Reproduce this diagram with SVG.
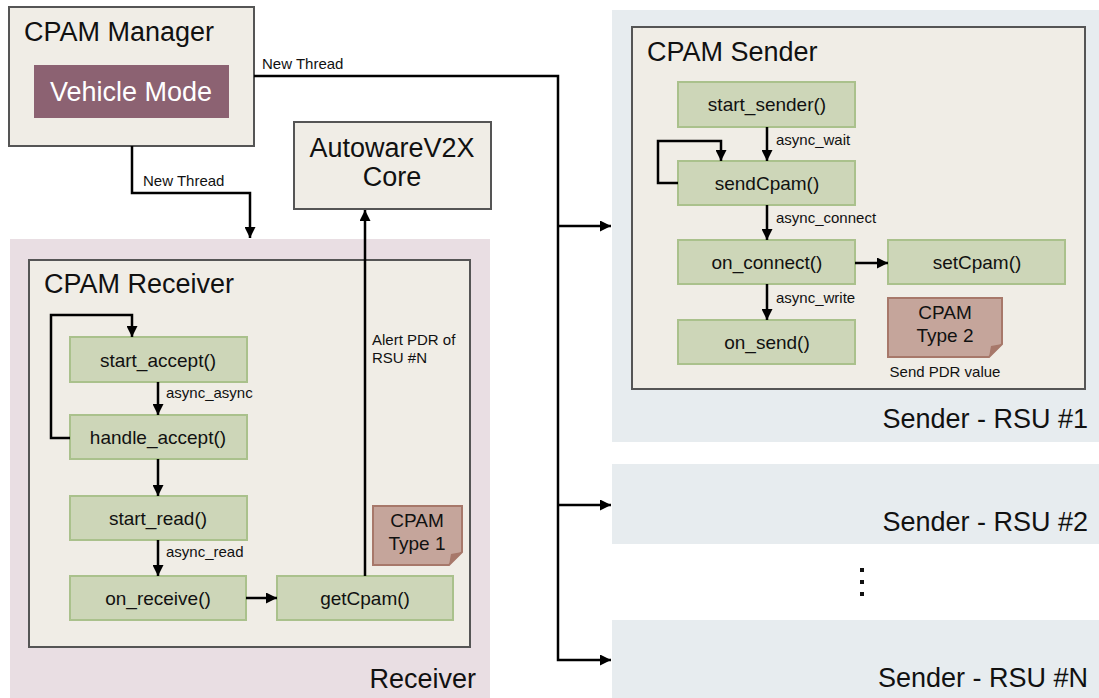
<svg xmlns="http://www.w3.org/2000/svg" width="1099" height="698" viewBox="0 0 1099 698">
<style>
text{font-family:"Liberation Sans",Arial,Helvetica,sans-serif;fill:#111}
.title{font-size:27px}
.fn{font-size:19px;text-anchor:middle}
.lbl{font-size:15px}
.box{fill:#f0ede6;stroke:#555;stroke-width:2}
.f{fill:#cdd6b8;stroke:#aac18c;stroke-width:2}
.note{fill:#c5a59b;stroke:#a7786a;stroke-width:2}
.fold{fill:#a7786a}
.conn{fill:none;stroke:#000;stroke-width:2.5}
.nt{font-size:19px;text-anchor:middle}
</style>
<defs>
<marker id="ah" viewBox="0 0 10 10" refX="10" refY="5" markerWidth="11" markerHeight="11" markerUnits="userSpaceOnUse" orient="auto"><path d="M0,0 L10,5 L0,10 z" fill="#000"/></marker>
</defs>
<rect width="1099" height="698" fill="#fff"/>

<g id="receiver-region">
<rect x="10" y="239" width="480" height="459" fill="#e9dee3"/>
<text class="title" x="476" y="688" text-anchor="end">Receiver</text>
</g>
<g id="sender-rsu1-region">
<rect x="612" y="10" width="487" height="432" fill="#e7ecef"/>
<text class="title" x="1088" y="428" text-anchor="end">Sender - RSU #1</text>
</g>
<g id="sender-rsu2-region">
<rect x="612" y="464" width="487" height="80" fill="#e7ecef"/>
<text class="title" x="1088" y="531" text-anchor="end">Sender - RSU #2</text>
</g>
<g id="sender-rsun-region">
<rect x="612" y="620" width="487" height="78" fill="#e7ecef"/>
<text class="title" x="1088" y="687" text-anchor="end">Sender - RSU #N</text>
</g>
<g id="ellipsis">
<rect x="860" y="568" width="4" height="4" fill="#111"/>
<rect x="860" y="580" width="4" height="4" fill="#111"/>
<rect x="860" y="592" width="4" height="4" fill="#111"/>
</g>

<g id="cpam-manager">
<rect class="box" x="9" y="7" width="245" height="139"/>
<text class="title" x="24" y="41">CPAM Manager</text>
<g id="vehicle-mode">
<rect x="34" y="65" width="195" height="53" fill="#8c6272"/>
<text x="131" y="101" text-anchor="middle" style="font-size:27px;fill:#fff">Vehicle Mode</text>
</g>
</g>

<g id="autowarev2x-core">
<rect class="box" x="294" y="122" width="197" height="87"/>
<text class="title" x="392" y="157" text-anchor="middle">AutowareV2X</text>
<text class="title" x="392" y="186" text-anchor="middle">Core</text>
</g>

<g id="cpam-receiver">
<rect class="box" x="29" y="260" width="441" height="387"/>
<text class="title" x="44" y="293">CPAM Receiver</text>
</g>
<g id="start_accept"><rect class="f" x="70" y="337" width="177" height="45"/><text class="fn" x="158" y="367">start_accept()</text></g>
<g id="handle_accept"><rect class="f" x="70" y="415" width="177" height="44"/><text class="fn" x="158" y="444">handle_accept()</text></g>
<g id="start_read"><rect class="f" x="70" y="496" width="177" height="44"/><text class="fn" x="158" y="525">start_read()</text></g>
<g id="on_receive"><rect class="f" x="70" y="576" width="176" height="44"/><text class="fn" x="158" y="605">on_receive()</text></g>
<g id="getCpam"><rect class="f" x="277" y="576" width="176" height="44"/><text class="fn" x="365" y="605">getCpam()</text></g>
<g id="cpam-type1">
<path class="note" d="M373,506 H462 V552 L449,565 H373 Z"/>
<path class="fold" d="M462,552 L449,565 L451,554 Z"/>
<text class="nt" x="417" y="527">CPAM</text>
<text class="nt" x="417" y="550">Type 1</text>
</g>

<g id="cpam-sender">
<rect class="box" x="632" y="27" width="453" height="362"/>
<text class="title" x="647" y="61">CPAM Sender</text>
</g>
<g id="start_sender"><rect class="f" x="678" y="82" width="177" height="45"/><text class="fn" x="767" y="111">start_sender()</text></g>
<g id="sendCpam"><rect class="f" x="678" y="161" width="177" height="44"/><text class="fn" x="767" y="190">sendCpam()</text></g>
<g id="on_connect"><rect class="f" x="678" y="240" width="177" height="44"/><text class="fn" x="767" y="269">on_connect()</text></g>
<g id="on_send"><rect class="f" x="678" y="320" width="177" height="44"/><text class="fn" x="767" y="349">on_send()</text></g>
<g id="setCpam"><rect class="f" x="888" y="240" width="177" height="44"/><text class="fn" x="977" y="269">setCpam()</text></g>
<g id="cpam-type2">
<path class="note" d="M888,298 H1002 V344 L989,357 H888 Z"/>
<path class="fold" d="M1002,344 L989,357 L991,346 Z"/>
<text class="nt" x="945" y="319">CPAM</text>
<text class="nt" x="945" y="342">Type 2</text>
<text x="945" y="377" text-anchor="middle" style="font-size:15px">Send PDR value</text>
</g>

<g id="connectors">
<path class="conn" d="M254,76 H558 V660 H611" marker-end="url(#ah)"/>
<path class="conn" d="M558,226 H611" marker-end="url(#ah)"/>
<path class="conn" d="M558,505 H611" marker-end="url(#ah)"/>
<text class="lbl" x="262" y="69">New Thread</text>
<path class="conn" d="M132,146 V193 H250 V238" marker-end="url(#ah)"/>
<text class="lbl" x="143" y="186">New Thread</text>
<path class="conn" d="M365,576 V210" marker-end="url(#ah)"/>
<text class="lbl" x="372" y="345">Alert PDR of</text>
<text class="lbl" x="372" y="363">RSU #N</text>
<path class="conn" d="M70,438 H51 V315 H132 V337" marker-end="url(#ah)"/>
<path class="conn" d="M158,382 V415" marker-end="url(#ah)"/>
<text class="lbl" x="166" y="398">async_async</text>
<path class="conn" d="M158,459 V496" marker-end="url(#ah)"/>
<path class="conn" d="M158,540 V576" marker-end="url(#ah)"/>
<text class="lbl" x="166" y="557">async_read</text>
<path class="conn" d="M246,598 H277" marker-end="url(#ah)"/>
<path class="conn" d="M767,127 V161" marker-end="url(#ah)"/>
<text class="lbl" x="776" y="145">async_wait</text>
<path class="conn" d="M678,183 H658 V141 H721 V161" marker-end="url(#ah)"/>
<path class="conn" d="M767,205 V240" marker-end="url(#ah)"/>
<text class="lbl" x="776" y="223">async_connect</text>
<path class="conn" d="M855,263 H888" marker-end="url(#ah)"/>
<path class="conn" d="M767,284 V320" marker-end="url(#ah)"/>
<text class="lbl" x="776" y="303">async_write</text>
</g>
</svg>
